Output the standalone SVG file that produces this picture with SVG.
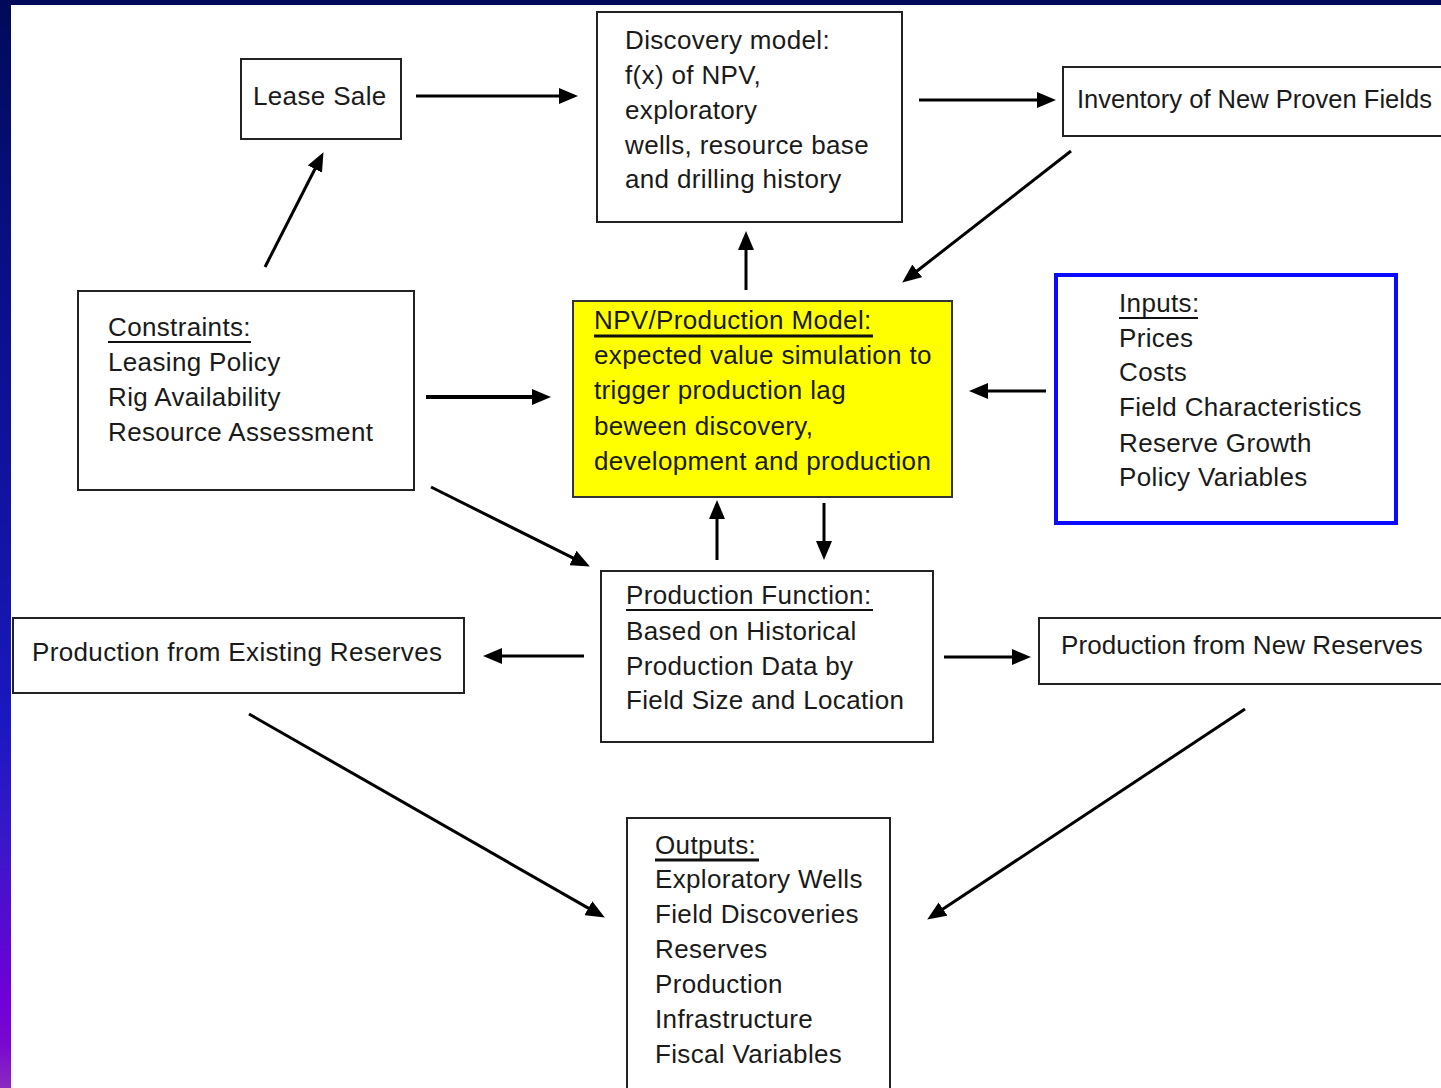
<svg xmlns="http://www.w3.org/2000/svg" width="1441" height="1088" viewBox="0 0 1441 1088">
<defs>
<linearGradient id="side" x1="0" y1="0" x2="0" y2="1">
<stop offset="0" stop-color="#000a5a"/>
<stop offset="0.28" stop-color="#0b0f8c"/>
<stop offset="0.52" stop-color="#1414a8"/>
<stop offset="0.66" stop-color="#1a18c0"/>
<stop offset="0.77" stop-color="#3818c8"/>
<stop offset="0.92" stop-color="#7000d8"/>
<stop offset="0.96" stop-color="#7a08d0"/>
<stop offset="1" stop-color="#8a2ac0"/>
</linearGradient>
<marker id="ah" viewBox="0 0 19 16" refX="1" refY="8" markerWidth="19" markerHeight="16" markerUnits="userSpaceOnUse" orient="auto">
<path d="M0,0 L19,8 L0,16 z" fill="#000"/>
</marker>
</defs>
<style>
.box{fill:#fff;stroke:#222;stroke-width:2}
.t{font-family:"Liberation Sans",Arial,sans-serif;font-size:26px;letter-spacing:0.35px;fill:#1a1a1a}
.ul{stroke:#111;stroke-width:2}
.c{stroke:#000;stroke-width:3;fill:none;marker-end:url(#ah)}
</style>
<rect x="0" y="0" width="1441" height="1088" fill="#fff"/>
<rect x="0" y="0" width="1441" height="5" fill="#000a5a"/>
<rect x="0" y="0" width="11" height="1088" fill="url(#side)"/>

<g id="connectors">
<line class="c" x1="416" y1="96" x2="560" y2="96"/>
<line class="c" x1="919" y1="100" x2="1038" y2="100"/>
<line class="c" x1="265" y1="267" x2="315.3" y2="168.2"/>
<line class="c" x1="746" y1="290" x2="746" y2="249"/>
<line class="c" x1="1071" y1="151" x2="916.4" y2="271.5"/>
<line class="c" style="stroke-width:4" x1="426" y1="397" x2="533" y2="397"/>
<line class="c" x1="1046" y1="391" x2="987" y2="391"/>
<line class="c" x1="431" y1="487" x2="573.8" y2="558.4"/>
<line class="c" x1="717" y1="560" x2="717" y2="518"/>
<line class="c" x1="824" y1="503" x2="824" y2="542"/>
<line class="c" x1="584" y1="656" x2="501" y2="656"/>
<line class="c" x1="944" y1="657" x2="1013" y2="657"/>
<line class="c" x1="249" y1="714" x2="589.2" y2="908.6"/>
<line class="c" x1="1245" y1="709" x2="942.2" y2="909.6"/>
</g>

<g id="lease-sale">
<rect class="box" x="241" y="59" width="160" height="80"/>
<text class="t" x="253" y="105">Lease Sale</text>
</g>

<g id="discovery-model">
<rect class="box" x="597" y="12" width="305" height="210"/>
<text class="t" x="625" y="49">Discovery model:</text>
<text class="t" x="625" y="84">f(x) of NPV,</text>
<text class="t" x="625" y="119">exploratory</text>
<text class="t" x="625" y="154">wells, resource base</text>
<text class="t" x="625" y="188">and drilling history</text>
</g>

<g id="inventory">
<rect class="box" x="1063" y="67" width="400" height="69"/>
<text class="t" x="1077" y="108" style="letter-spacing:0" textLength="355" lengthAdjust="spacingAndGlyphs">Inventory of New Proven Fields</text>
</g>

<g id="constraints">
<rect class="box" x="78" y="291" width="336" height="199"/>
<text class="t" x="108" y="336">Constraints:</text>
<line class="ul" x1="108" y1="342" x2="251" y2="342"/>
<text class="t" x="108" y="371">Leasing Policy</text>
<text class="t" x="108" y="406">Rig Availability</text>
<text class="t" x="108" y="441">Resource Assessment</text>
</g>

<g id="npv-model">
<rect x="573" y="301" width="379" height="196" fill="#ffff00" stroke="#333" stroke-width="2"/>
<text class="t" x="594" y="329">NPV/Production Model:</text>
<line class="ul" style="stroke-width:3" x1="594" y1="336" x2="873" y2="336"/>
<text class="t" x="594" y="364">expected value simulation to</text>
<text class="t" x="594" y="399">trigger production lag</text>
<text class="t" x="594" y="435">beween discovery,</text>
<text class="t" x="594" y="470">development and production</text>
</g>

<g id="inputs">
<rect x="1056" y="275" width="340" height="248" fill="#fff" stroke="#0a0aff" stroke-width="4"/>
<text class="t" x="1119" y="312">Inputs:</text>
<line class="ul" x1="1119" y1="318" x2="1198" y2="318"/>
<text class="t" x="1119" y="347">Prices</text>
<text class="t" x="1119" y="381">Costs</text>
<text class="t" x="1119" y="416">Field Characteristics</text>
<text class="t" x="1119" y="452">Reserve Growth</text>
<text class="t" x="1119" y="486">Policy Variables</text>
</g>

<g id="production-existing">
<rect class="box" x="13" y="618" width="451" height="75"/>
<text class="t" x="32" y="661">Production from Existing Reserves</text>
</g>

<g id="production-function">
<rect class="box" x="601" y="571" width="332" height="171"/>
<text class="t" x="626" y="604">Production Function:</text>
<line class="ul" x1="626" y1="610" x2="873" y2="610"/>
<text class="t" x="626" y="640">Based on Historical</text>
<text class="t" x="626" y="675">Production Data by</text>
<text class="t" x="626" y="709">Field Size and Location</text>
</g>

<g id="production-new">
<rect class="box" x="1039" y="618" width="420" height="66"/>
<text class="t" x="1061" y="654" textLength="362" lengthAdjust="spacing">Production from New Reserves</text>
</g>

<g id="outputs">
<rect class="box" x="627" y="818" width="263" height="290"/>
<text class="t" x="655" y="854">Outputs:</text>
<line class="ul" style="stroke-width:3" x1="655" y1="860" x2="759" y2="860"/>
<text class="t" x="655" y="888">Exploratory Wells</text>
<text class="t" x="655" y="923">Field Discoveries</text>
<text class="t" x="655" y="958">Reserves</text>
<text class="t" x="655" y="993">Production</text>
<text class="t" x="655" y="1028">Infrastructure</text>
<text class="t" x="655" y="1063">Fiscal Variables</text>
</g>
</svg>
